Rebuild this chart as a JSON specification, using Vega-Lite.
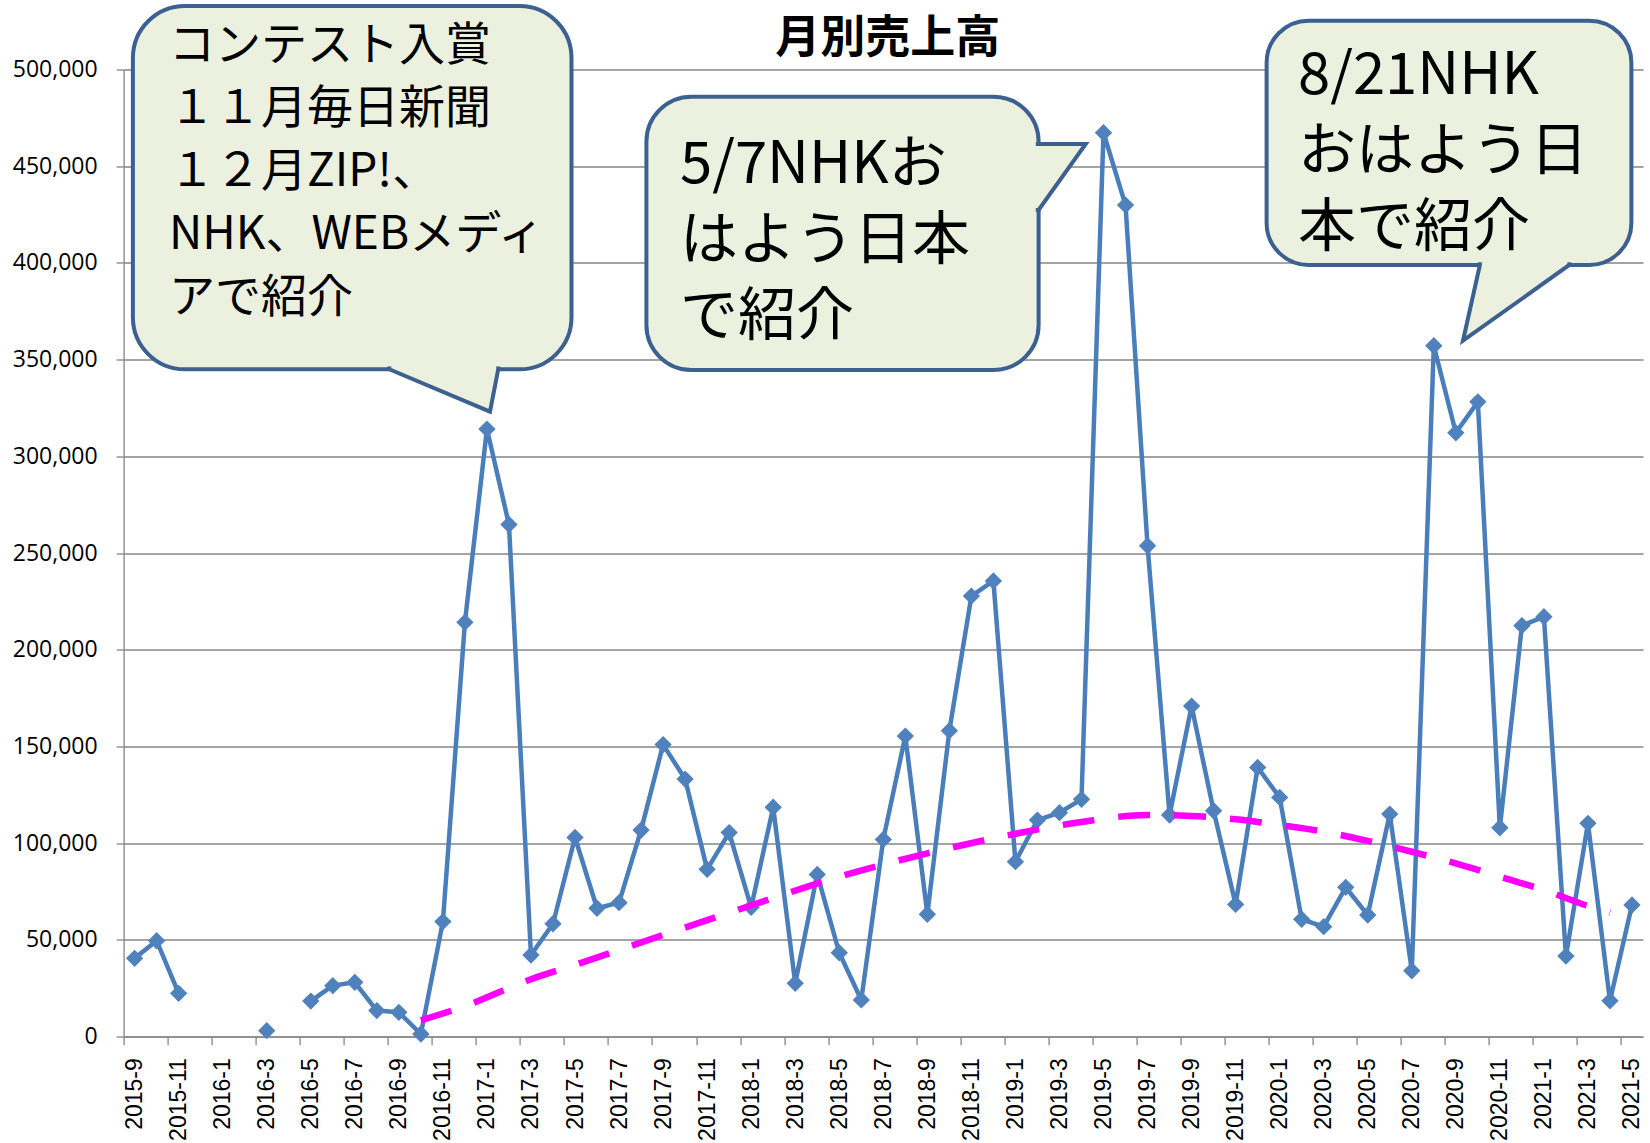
{
  "$schema": "https://vega.github.io/schema/vega-lite/v6.json",
  "autosize": {"type": "none"},
  "padding": {"left": 123.6, "top": 69.5, "right": 7, "bottom": 106.3},
  "width": 1519.4,
  "height": 967.2,
  "background": "white",
  "config": {
    "view": {"stroke": null},
    "axis": {"domainColor": "#868686", "tickColor": "#868686", "gridColor": "#868686", "domainWidth": 1.3, "tickWidth": 1.3, "gridWidth": 1.3, "labelColor": "#000000"}
  },
  "datasets": {
    "sales": [
      {"i": 0, "month": "2015-9", "sales": 40500, "seg": "a"},
      {"i": 1, "month": "2015-10", "sales": 49600, "seg": "a"},
      {"i": 2, "month": "2015-11", "sales": 22400, "seg": "a"},
      {"i": 6, "month": "2016-3", "sales": 3100, "seg": "b"},
      {"i": 8, "month": "2016-5", "sales": 18400, "seg": "c"},
      {"i": 9, "month": "2016-6", "sales": 26400, "seg": "c"},
      {"i": 10, "month": "2016-7", "sales": 28100, "seg": "c"},
      {"i": 11, "month": "2016-8", "sales": 13500, "seg": "c"},
      {"i": 12, "month": "2016-9", "sales": 12600, "seg": "c"},
      {"i": 13, "month": "2016-10", "sales": 1400, "seg": "c"},
      {"i": 14, "month": "2016-11", "sales": 59500, "seg": "c"},
      {"i": 15, "month": "2016-12", "sales": 214200, "seg": "c"},
      {"i": 16, "month": "2017-1", "sales": 314100, "seg": "c"},
      {"i": 17, "month": "2017-2", "sales": 264800, "seg": "c"},
      {"i": 18, "month": "2017-3", "sales": 42200, "seg": "c"},
      {"i": 19, "month": "2017-4", "sales": 58400, "seg": "c"},
      {"i": 20, "month": "2017-5", "sales": 103000, "seg": "c"},
      {"i": 21, "month": "2017-6", "sales": 66400, "seg": "c"},
      {"i": 22, "month": "2017-7", "sales": 69300, "seg": "c"},
      {"i": 23, "month": "2017-8", "sales": 106800, "seg": "c"},
      {"i": 24, "month": "2017-9", "sales": 151000, "seg": "c"},
      {"i": 25, "month": "2017-10", "sales": 133200, "seg": "c"},
      {"i": 26, "month": "2017-11", "sales": 86500, "seg": "c"},
      {"i": 27, "month": "2017-12", "sales": 105500, "seg": "c"},
      {"i": 28, "month": "2018-1", "sales": 66900, "seg": "c"},
      {"i": 29, "month": "2018-2", "sales": 118600, "seg": "c"},
      {"i": 30, "month": "2018-3", "sales": 27600, "seg": "c"},
      {"i": 31, "month": "2018-4", "sales": 83900, "seg": "c"},
      {"i": 32, "month": "2018-5", "sales": 43400, "seg": "c"},
      {"i": 33, "month": "2018-6", "sales": 19000, "seg": "c"},
      {"i": 34, "month": "2018-7", "sales": 102000, "seg": "c"},
      {"i": 35, "month": "2018-8", "sales": 155400, "seg": "c"},
      {"i": 36, "month": "2018-9", "sales": 63300, "seg": "c"},
      {"i": 37, "month": "2018-10", "sales": 158200, "seg": "c"},
      {"i": 38, "month": "2018-11", "sales": 227800, "seg": "c"},
      {"i": 39, "month": "2018-12", "sales": 235600, "seg": "c"},
      {"i": 40, "month": "2019-1", "sales": 90500, "seg": "c"},
      {"i": 41, "month": "2019-2", "sales": 112000, "seg": "c"},
      {"i": 42, "month": "2019-3", "sales": 115800, "seg": "c"},
      {"i": 43, "month": "2019-4", "sales": 122700, "seg": "c"},
      {"i": 44, "month": "2019-5", "sales": 467300, "seg": "c"},
      {"i": 45, "month": "2019-6", "sales": 429900, "seg": "c"},
      {"i": 46, "month": "2019-7", "sales": 253800, "seg": "c"},
      {"i": 47, "month": "2019-8", "sales": 114600, "seg": "c"},
      {"i": 48, "month": "2019-9", "sales": 170900, "seg": "c"},
      {"i": 49, "month": "2019-10", "sales": 116800, "seg": "c"},
      {"i": 50, "month": "2019-11", "sales": 68400, "seg": "c"},
      {"i": 51, "month": "2019-12", "sales": 139200, "seg": "c"},
      {"i": 52, "month": "2020-1", "sales": 123700, "seg": "c"},
      {"i": 53, "month": "2020-2", "sales": 60700, "seg": "c"},
      {"i": 54, "month": "2020-3", "sales": 56900, "seg": "c"},
      {"i": 55, "month": "2020-4", "sales": 77200, "seg": "c"},
      {"i": 56, "month": "2020-5", "sales": 62900, "seg": "c"},
      {"i": 57, "month": "2020-6", "sales": 115100, "seg": "c"},
      {"i": 58, "month": "2020-7", "sales": 34100, "seg": "c"},
      {"i": 59, "month": "2020-8", "sales": 357200, "seg": "c"},
      {"i": 60, "month": "2020-9", "sales": 312200, "seg": "c"},
      {"i": 61, "month": "2020-10", "sales": 328200, "seg": "c"},
      {"i": 62, "month": "2020-11", "sales": 108000, "seg": "c"},
      {"i": 63, "month": "2020-12", "sales": 212500, "seg": "c"},
      {"i": 64, "month": "2021-1", "sales": 217100, "seg": "c"},
      {"i": 65, "month": "2021-2", "sales": 41700, "seg": "c"},
      {"i": 66, "month": "2021-3", "sales": 110300, "seg": "c"},
      {"i": 67, "month": "2021-4", "sales": 18600, "seg": "c"},
      {"i": 68, "month": "2021-5", "sales": 68100, "seg": "c"}
    ],
    "trend": [
      {"i": 13, "trend": 8500},
      {"i": 15, "trend": 15800},
      {"i": 18, "trend": 29700},
      {"i": 20, "trend": 37100},
      {"i": 24, "trend": 52600},
      {"i": 28, "trend": 67900},
      {"i": 32, "trend": 82700},
      {"i": 36, "trend": 94800},
      {"i": 40, "trend": 104900},
      {"i": 43, "trend": 111000},
      {"i": 46, "trend": 114600},
      {"i": 48, "trend": 114100},
      {"i": 50, "trend": 112400},
      {"i": 52, "trend": 109400},
      {"i": 54, "trend": 106000},
      {"i": 56, "trend": 101200},
      {"i": 58, "trend": 95600},
      {"i": 60, "trend": 89600},
      {"i": 62, "trend": 82700},
      {"i": 64, "trend": 75800},
      {"i": 66, "trend": 67600},
      {"i": 67, "trend": 64000}
    ],
    "tails": [
      {"callout": 1, "k": 1, "i": 11.566, "v": 346467},
      {"callout": 1, "k": 2, "i": 11.566, "v": 345019},
      {"callout": 1, "k": 3, "i": 16.139, "v": 323100},
      {"callout": 1, "k": 4, "i": 16.512, "v": 345019},
      {"callout": 1, "k": 5, "i": 16.512, "v": 346467},
      {"callout": 2, "k": 1, "i": 40.926, "v": 461490},
      {"callout": 2, "k": 2, "i": 41.053, "v": 461490},
      {"callout": 2, "k": 3, "i": 43.192, "v": 461490},
      {"callout": 2, "k": 4, "i": 41.053, "v": 427371},
      {"callout": 2, "k": 5, "i": 40.926, "v": 427371},
      {"callout": 3, "k": 1, "i": 61.093, "v": 400386},
      {"callout": 3, "k": 2, "i": 61.093, "v": 398938},
      {"callout": 3, "k": 3, "i": 60.326, "v": 359804},
      {"callout": 3, "k": 4, "i": 65.153, "v": 398938},
      {"callout": 3, "k": 5, "i": 65.153, "v": 400386}
    ]
  },
  "layer": [
    {
      "data": {"name": "sales"},
      "mark": {"type": "line", "color": "#4A7EBB", "strokeWidth": 4.5, "strokeJoin": "round"},
      "encoding": {
        "x": {
          "field": "i", "type": "quantitative",
          "scale": {"domain": [-0.5, 68.5], "nice": false, "zero": false},
          "axis": {
            "title": null,
            "grid": false,
            "values": [-0.5, 0.5, 1.5, 2.5, 3.5, 4.5, 5.5, 6.5, 7.5, 8.5, 9.5, 10.5, 11.5, 12.5, 13.5, 14.5, 15.5, 16.5, 17.5, 18.5, 19.5, 20.5, 21.5, 22.5, 23.5, 24.5, 25.5, 26.5, 27.5, 28.5, 29.5, 30.5, 31.5, 32.5, 33.5, 34.5, 35.5, 36.5, 37.5, 38.5, 39.5, 40.5, 41.5, 42.5, 43.5, 44.5, 45.5, 46.5, 47.5, 48.5, 49.5, 50.5, 51.5, 52.5, 53.5, 54.5, 55.5, 56.5, 57.5, 58.5, 59.5, 60.5, 61.5, 62.5, 63.5, 64.5, 65.5, 66.5, 67.5, 68.5],
            "labelExpr": "(datum.value + 0.5) % 2 == 0 ? (2015 + floor((datum.value + 8.5) / 12)) + '-' + ((datum.value + 8.5) % 12 + 1) : ''",
            "labelAngle": -90,
            "labelAlign": "right",
            "labelBaseline": "middle",
            "labelOffset": 11.01,
            "labelPadding": 13,
            "tickSize": 8,
            "labelOverlap": false,
            "labelFlush": false,
            "labelBound": false,
            "labelFont": "Liberation Sans",
            "labelFontSize": 23
          }
        },
        "y": {
          "field": "sales", "type": "quantitative",
          "scale": {"domain": [0, 500000], "nice": false},
          "axis": {
            "title": null,
            "values": [0, 50000, 100000, 150000, 200000, 250000, 300000, 350000, 400000, 450000, 500000],
            "format": ",d",
            "grid": true,
            "tickSize": 7.5,
            "labelPadding": 19,
            "labelFont": "Open Sans",
            "labelFontSize": 23
          }
        },
        "detail": {"field": "seg", "type": "nominal"}
      }
    },
    {
      "data": {"name": "sales"},
      "mark": {"type": "point", "shape": "diamond", "filled": true, "size": 300, "color": "#4F81BD", "opacity": 1},
      "encoding": {
        "x": {"field": "i", "type": "quantitative", "scale": {"domain": [-0.5, 68.5], "nice": false, "zero": false}},
        "y": {"field": "sales", "type": "quantitative", "scale": {"domain": [0, 500000], "nice": false}}
      }
    },
    {
      "data": {"name": "trend"},
      "mark": {"type": "line", "color": "#FF00FF", "strokeWidth": 6.5, "strokeDash": [32, 24], "interpolate": "monotone"},
      "encoding": {
        "x": {"field": "i", "type": "quantitative", "scale": {"domain": [-0.5, 68.5], "nice": false, "zero": false}},
        "y": {"field": "trend", "type": "quantitative", "scale": {"domain": [0, 500000], "nice": false}}
      }
    },
    {
      "data": {"values": [{}]},
      "mark": {"type": "rect", "cornerRadius": 52, "fill": "#EBF1DE", "stroke": "#3C6090", "strokeWidth": 4},
      "encoding": {
        "x": {"datum": -0.078, "type": "quantitative", "scale": {"domain": [-0.5, 68.5], "nice": false, "zero": false}},
        "x2": {"datum": 19.84},
        "y": {"datum": 532830, "type": "quantitative", "scale": {"domain": [0, 500000], "nice": false}},
        "y2": {"datum": 345019}
      }
    },
    {
      "data": {"values": [{}]},
      "mark": {"type": "rect", "cornerRadius": 45, "fill": "#EBF1DE", "stroke": "#3C6090", "strokeWidth": 4},
      "encoding": {
        "x": {"datum": 23.242, "type": "quantitative", "scale": {"domain": [-0.5, 68.5], "nice": false, "zero": false}},
        "x2": {"datum": 41.053},
        "y": {"datum": 485942, "type": "quantitative", "scale": {"domain": [0, 500000], "nice": false}},
        "y2": {"datum": 344657}
      }
    },
    {
      "data": {"values": [{}]},
      "mark": {"type": "rect", "cornerRadius": 42, "fill": "#EBF1DE", "stroke": "#3C6090", "strokeWidth": 4},
      "encoding": {
        "x": {"datum": 51.407, "type": "quantitative", "scale": {"domain": [-0.5, 68.5], "nice": false, "zero": false}},
        "x2": {"datum": 67.973},
        "y": {"datum": 525231, "type": "quantitative", "scale": {"domain": [0, 500000], "nice": false}},
        "y2": {"datum": 398938}
      }
    },
    {
      "data": {"name": "tails"},
      "mark": {"type": "line", "fill": "#EBF1DE", "stroke": "#3C6090", "strokeWidth": 4, "strokeJoin": "miter"},
      "encoding": {
        "x": {"field": "i", "type": "quantitative", "scale": {"domain": [-0.5, 68.5], "nice": false, "zero": false}},
        "y": {"field": "v", "type": "quantitative", "scale": {"domain": [0, 500000], "nice": false}},
        "order": {"field": "k", "type": "quantitative"},
        "detail": {"field": "callout", "type": "nominal"}
      }
    },
    {
      "data": {"values": [{}]},
      "mark": {"type": "text", "align": "center", "baseline": "alphabetic", "font": "Noto Sans CJK JP", "fontSize": 45, "fontWeight": "bold", "color": "#000000"},
      "encoding": {
        "x": {"datum": 34.2, "type": "quantitative", "scale": {"domain": [-0.5, 68.5], "nice": false, "zero": false}},
        "y": {"datum": 508533, "type": "quantitative", "scale": {"domain": [0, 500000], "nice": false}},
        "text": {"value": "月別売上高"}
      }
    },
    {
      "data": {"values": [{}]},
      "mark": {"type": "text", "align": "left", "baseline": "top", "font": "Noto Sans CJK JP", "fontSize": 46, "lineHeight": 63, "lineBreak": "\n", "color": "#000000"},
      "encoding": {
        "x": {"datum": 1.562, "type": "quantitative", "scale": {"domain": [-0.5, 68.5], "nice": false, "zero": false}},
        "y": {"datum": 523525, "type": "quantitative", "scale": {"domain": [0, 500000], "nice": false}},
        "text": {"value": "コンテスト入賞\n１１月毎日新聞\n１２月ZIP!、\nNHK、WEBメディ\nアで紹介"}
      }
    },
    {
      "data": {"values": [{}]},
      "mark": {"type": "text", "align": "left", "baseline": "top", "font": "Noto Sans CJK JP", "fontSize": 58, "lineHeight": 76, "lineBreak": "\n", "color": "#000000"},
      "encoding": {
        "x": {"datum": 24.768, "type": "quantitative", "scale": {"domain": [-0.5, 68.5], "nice": false, "zero": false}},
        "y": {"datum": 465316, "type": "quantitative", "scale": {"domain": [0, 500000], "nice": false}},
        "text": {"value": "5/7NHKお\nはよう日本\nで紹介"}
      }
    },
    {
      "data": {"values": [{}]},
      "mark": {"type": "text", "align": "left", "baseline": "top", "font": "Noto Sans CJK JP", "fontSize": 58, "lineHeight": 76, "lineBreak": "\n", "color": "#000000"},
      "encoding": {
        "x": {"datum": 52.833, "type": "quantitative", "scale": {"domain": [-0.5, 68.5], "nice": false, "zero": false}},
        "y": {"datum": 511118, "type": "quantitative", "scale": {"domain": [0, 500000], "nice": false}},
        "text": {"value": "8/21NHK\nおはよう日\n本で紹介"}
      }
    }
  ]
}
